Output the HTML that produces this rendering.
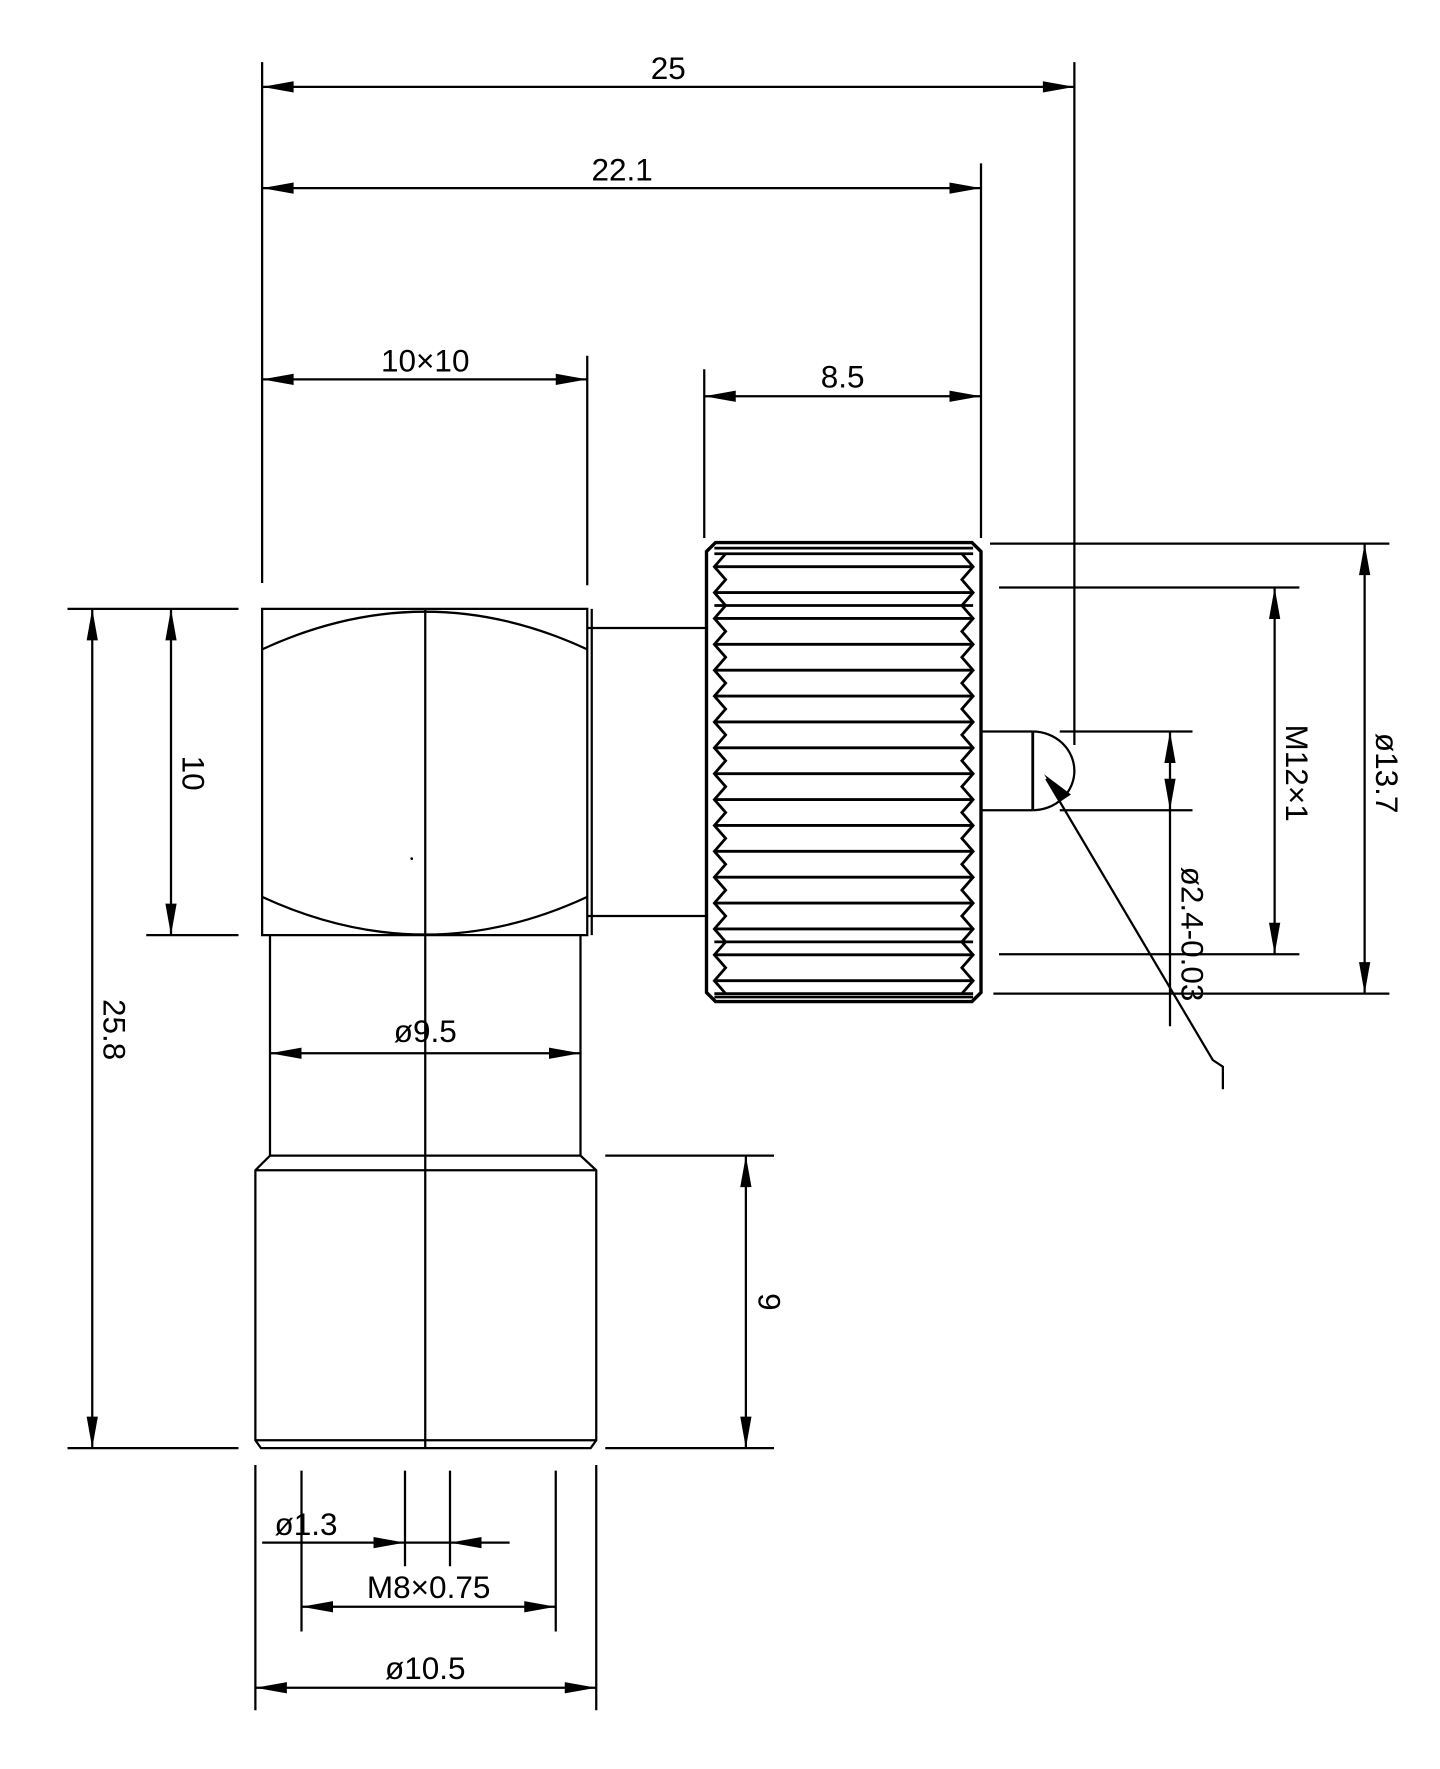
<!DOCTYPE html>
<html><head><meta charset="utf-8"><style>html,body{margin:0;padding:0;background:#fff}svg{display:block}</style></head>
<body>
<svg width="1440" height="1769" viewBox="0 0 1280 1572" xmlns="http://www.w3.org/2000/svg">
<g fill="none" stroke="#000" stroke-width="2">
<!-- top dim extension lines -->
<line x1="233" y1="55" x2="233" y2="518"/>
<line x1="955" y1="55" x2="955" y2="662"/>
<line x1="872" y1="145" x2="872" y2="478"/>
<line x1="522" y1="316" x2="522" y2="520"/>
<line x1="626" y1="328" x2="626" y2="478"/>
<line x1="233" y1="77" x2="955" y2="77"/>
<line x1="233" y1="167" x2="872" y2="167"/>
<line x1="233" y1="337" x2="522" y2="337"/>
<line x1="626" y1="352" x2="872" y2="352"/>
<!-- body -->
<rect x="233" y="541" width="289" height="290"/>
<line x1="526" y1="541" x2="526" y2="831"/>
<path d="M233,577 Q378,510 522,577"/>
<path d="M233,797 Q378,864 522,797"/>
<line x1="378" y1="541" x2="378" y2="1287"/>
<line x1="522" y1="558" x2="628" y2="558"/>
<line x1="522" y1="814" x2="628" y2="814"/>
<!-- lower body -->
<path d="M240,831 V1027 L227,1040 V1280 L232,1287 H525 L530,1280 V1040 L516,1027 V831"/>
<line x1="240" y1="1027" x2="516" y2="1027"/>
<line x1="227" y1="1040" x2="530" y2="1040"/>
<line x1="227" y1="1280" x2="530" y2="1280"/>
<!-- nut -->
<polygon points="636,482 864,482 872,490 872,882 864,890 636,890 628,882 628,490" stroke-width="3"/>
<polyline stroke-width="2.5" points="645,492 635,503.5 645,515 635,526.5 645,538 635,549.5 645,561 635,572.5 645,584 635,595.5 645,607 635,618.5 645,630 635,641.5 645,653 635,664.5 645,676 635,687.5 645,699 635,710.5 645,722 635,733.5 645,745 635,756.5 645,768 635,779.5 645,791 635,802.5 645,814 635,825.5 645,837 635,848.5 645,860 635,871.5 645,883"/>
<polyline stroke-width="2.5" points="855,492 865,503.5 855,515 865,526.5 855,538 865,549.5 855,561 865,572.5 855,584 865,595.5 855,607 865,618.5 855,630 865,641.5 855,653 865,664.5 855,676 865,687.5 855,699 865,710.5 855,722 865,733.5 855,745 865,756.5 855,768 865,779.5 855,791 865,802.5 855,814 865,825.5 855,837 865,848.5 855,860 865,871.5 855,883"/>
<path stroke-width="2.5" d="M635,487H865M635,492H865M635,503.5H865M635,526.5H865M635,538H865M635,549.5H865M635,572.5H865M635,595.5H865M635,618.5H865M635,641.5H865M635,664.5H865M635,687.5H865M635,710.5H865M635,733.5H865M635,756.5H865M635,779.5H865M635,802.5H865M635,825.5H865M635,837H865M635,848.5H865M635,871.5H865M635,883H865M635,886H865"/>
<!-- pin -->
<line x1="872" y1="650" x2="918" y2="650"/>
<line x1="872" y1="720" x2="918" y2="720"/>
<line x1="918" y1="650" x2="918" y2="720" stroke-width="2.5"/>
<path d="M918,650 A37,35 0 0 1 918,720"/>
<polyline points="930,692 1078,942 1087,948 1087,968"/>
<!-- right dims -->
<line x1="880" y1="483" x2="1235" y2="483"/>
<line x1="888" y1="522" x2="1155" y2="522"/>
<line x1="942" y1="650" x2="1060" y2="650"/>
<line x1="942" y1="720" x2="1060" y2="720"/>
<line x1="888" y1="848" x2="1155" y2="848"/>
<line x1="883" y1="883" x2="1235" y2="883"/>
<line x1="1213" y1="483" x2="1213" y2="883"/>
<line x1="1133" y1="522" x2="1133" y2="848"/>
<line x1="1040" y1="650" x2="1040" y2="912"/>
<!-- left dims -->
<line x1="60" y1="541" x2="212" y2="541"/>
<line x1="60" y1="1287" x2="212" y2="1287"/>
<line x1="130" y1="831" x2="212" y2="831"/>
<line x1="82" y1="541" x2="82" y2="1287"/>
<line x1="152" y1="541" x2="152" y2="831"/>
<line x1="240" y1="936" x2="516" y2="936"/>
<!-- 9 dim -->
<line x1="538" y1="1027" x2="688" y2="1027"/>
<line x1="538" y1="1287" x2="688" y2="1287"/>
<line x1="663" y1="1027" x2="663" y2="1287"/>
<!-- bottom dims -->
<line x1="227" y1="1302" x2="227" y2="1520"/>
<line x1="530" y1="1302" x2="530" y2="1520"/>
<line x1="268" y1="1307" x2="268" y2="1450"/>
<line x1="494" y1="1307" x2="494" y2="1450"/>
<line x1="360" y1="1307" x2="360" y2="1392"/>
<line x1="400" y1="1307" x2="400" y2="1392"/>
<line x1="233" y1="1371" x2="453" y2="1371"/>
<line x1="268" y1="1428" x2="494" y2="1428"/>
<line x1="227" y1="1500" x2="530" y2="1500"/>
</g>
<circle cx="366" cy="763" r="1.2" fill="#000"/>
<g fill="#000">
<!-- horizontal arrows -->
<polygon points="233,77 261,72 261,82"/><polygon points="955,77 927,72 927,82"/>
<polygon points="233,167 261,162 261,172"/><polygon points="872,167 844,162 844,172"/>
<polygon points="233,337 261,332 261,342"/><polygon points="522,337 494,332 494,342"/>
<polygon points="626,352 654,347 654,357"/><polygon points="872,352 844,347 844,357"/>
<polygon points="240,936 268,931 268,941"/><polygon points="516,936 488,931 488,941"/>
<polygon points="360,1371 332,1366 332,1376"/><polygon points="400,1371 428,1366 428,1376"/>
<polygon points="268,1428 296,1423 296,1433"/><polygon points="494,1428 466,1423 466,1433"/>
<polygon points="227,1500 255,1495 255,1505"/><polygon points="530,1500 502,1495 502,1505"/>
<!-- vertical arrows -->
<polygon points="82,541 77,569 87,569"/><polygon points="82,1287 77,1259 87,1259"/>
<polygon points="152,541 147,569 157,569"/><polygon points="152,831 147,803 157,803"/>
<polygon points="663,1027 658,1055 668,1055"/><polygon points="663,1287 658,1259 668,1259"/>
<polygon points="1213,483 1208,511 1218,511"/><polygon points="1213,883 1208,855 1218,855"/>
<polygon points="1133,522 1128,550 1138,550"/><polygon points="1133,848 1128,820 1138,820"/>
<polygon points="1040,650 1035,678 1045,678"/><polygon points="1040,720 1035,692 1045,692"/>
<polygon points="928,688 952,706 943,712"/>
</g>
<g font-family="'Liberation Sans', sans-serif" font-size="28" fill="#000" text-anchor="middle">
<text x="594" y="70">25</text>
<text x="553" y="160">22.1</text>
<text x="378" y="330">10×10</text>
<text x="749" y="344">8.5</text>
<text x="378" y="926">ø9.5</text>
<text x="272" y="1364">ø1.3</text>
<text x="381" y="1420">M8×0.75</text>
<text x="378" y="1492">ø10.5</text>
<text transform="translate(162,687) rotate(90)">10</text>
<text transform="translate(92,915) rotate(90)">25.8</text>
<text transform="translate(674,1157) rotate(90)">9</text>
<text transform="translate(1143,687) rotate(90)">M12×1</text>
<text transform="translate(1223,687) rotate(90)">ø13.7</text>
<text transform="translate(1050,830) rotate(90)">ø2.4-0.03</text>
</g>
</svg>
</body></html>
